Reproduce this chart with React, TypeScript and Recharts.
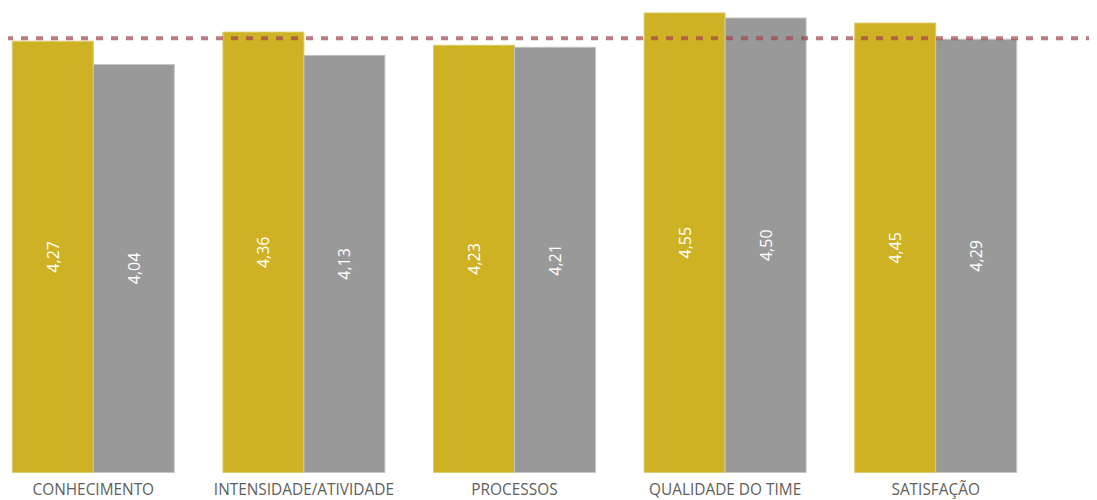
import { Bar, BarChart, LabelList, ReferenceLine, XAxis, YAxis } from "recharts";

const GOLD = "#cfb223";
const GRAY = "#999999";

const categories = [
  "CONHECIMENTO",
  "INTENSIDADE/ATIVIDADE",
  "PROCESSOS",
  "QUALIDADE DO TIME",
  "SATISFAÇÃO",
];
const seriesA = [4.27, 4.36, 4.23, 4.55, 4.45];
const seriesB = [4.04, 4.13, 4.21, 4.5, 4.29];
const averageLine = 4.3;

const data = categories.map((name, i) => ({ name, a: seriesA[i], b: seriesB[i] }));

const fmt = (v: number) => v.toFixed(2).replace(".", ",");

function ValueLabel(props: any) {
  const { x, y, width, height, value } = props;
  const cx = x + width / 2;
  const cy = y + height / 2;
  return (
    <text
      x={cx}
      y={cy}
      fill="#ffffff"
      fontSize={16}
      fontFamily="'Open Sans', sans-serif"
      textAnchor="middle"
      dominantBaseline="central"
      transform={`rotate(-90 ${cx} ${cy})`}
    >
      {fmt(value)}
    </text>
  );
}

function CategoryTick(props: any) {
  const { x, y, payload } = props;
  return (
    <text
      x={x}
      y={y}
      dy={14.5}
      fill="#605e5c"
      fontSize={15.4}
      fontFamily="'Open Sans', sans-serif"
      textAnchor="middle"
    >
      {payload.value}
    </text>
  );
}

export default function App() {
  return (
    <div style={{ marginLeft: -2, marginTop: -8, width: 1086, height: 500 }}>
      <BarChart
        width={1086}
        height={500}
        data={data}
        margin={{ top: 0, right: 0, bottom: 0, left: 0 }}
        barCategoryGap={24.3}
        barGap={0}
      >
        <XAxis
          dataKey="name"
          height={27.5}
          axisLine={false}
          tickLine={false}
          interval={0}
          padding={{ left: -18, right: 51 }}
          tick={<CategoryTick />}
        />
        <YAxis hide domain={[0, 4.678]} />
        <Bar dataKey="a" fill={GOLD} stroke="#dccb6e" strokeWidth={1} isAnimationActive={false}>
          <LabelList dataKey="a" content={<ValueLabel />} />
        </Bar>
        <Bar dataKey="b" fill={GRAY} stroke="#c4c4c4" strokeWidth={1} isAnimationActive={false}>
          <LabelList dataKey="b" content={<ValueLabel />} />
        </Bar>
        <ReferenceLine
          y={averageLine}
          stroke="#a3434c"
          strokeOpacity={0.7}
          strokeWidth={4}
          strokeDasharray="7 8"
        />
      </BarChart>
    </div>
  );
}
